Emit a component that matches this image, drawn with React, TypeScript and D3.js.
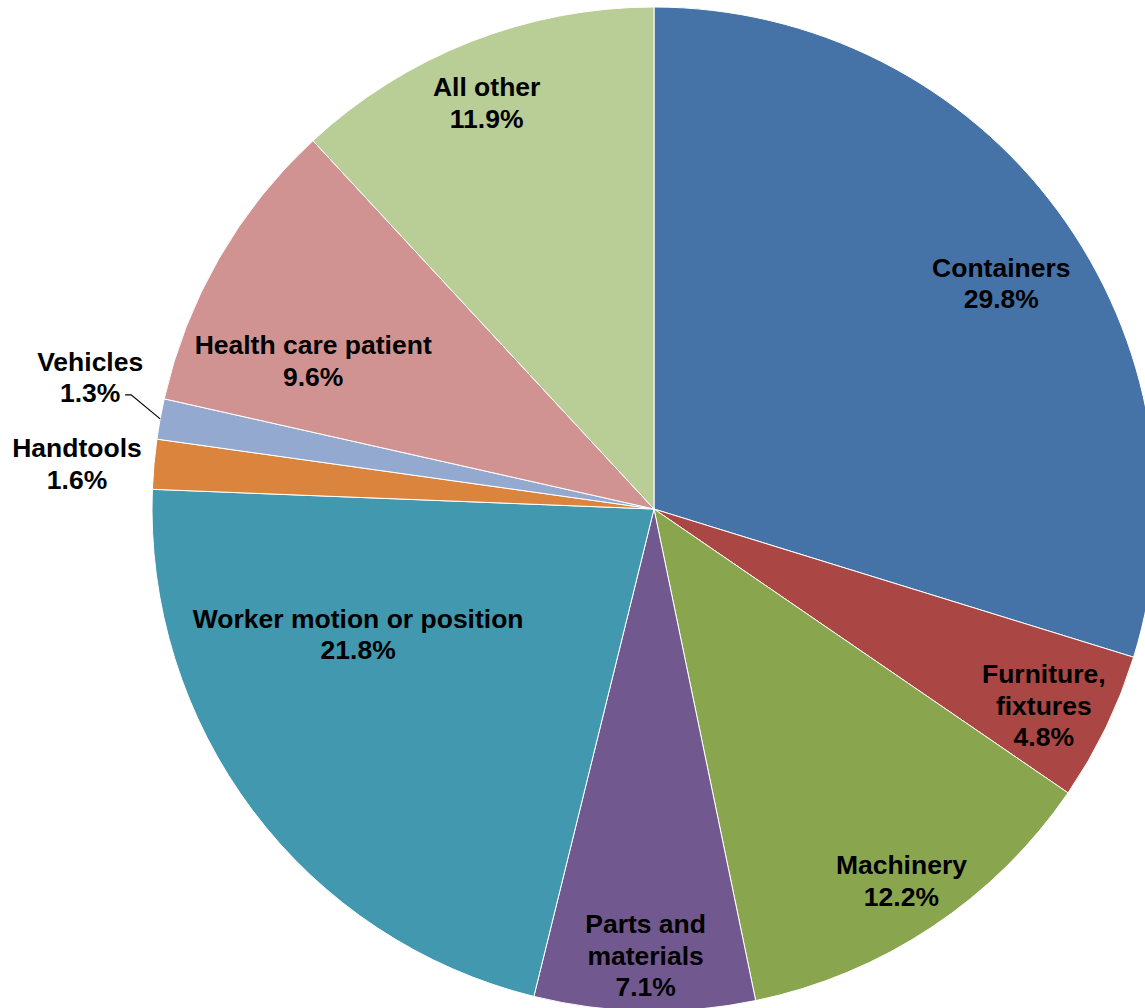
import { useEffect, useRef } from "react";
import * as d3 from "d3";

const categories = [
  "Containers",
  "Furniture, fixtures",
  "Machinery",
  "Parts and materials",
  "Worker motion or position",
  "Handtools",
  "Vehicles",
  "Health care patient",
  "All other",
];
const shares = [29.8, 4.8, 12.2, 7.1, 21.8, 1.6, 1.3, 9.6, 11.9];
const labelLines = [
  ["Containers"],
  ["Furniture,", "fixtures"],
  ["Machinery"],
  ["Parts and", "materials"],
  ["Worker motion or position"],
  ["Handtools"],
  ["Vehicles"],
  ["Health care patient"],
  ["All other"],
];
const colors = [
  "#4572A7",
  "#AA4643",
  "#89A54E",
  "#71588F",
  "#4198AF",
  "#DB843D",
  "#93A9CF",
  "#D19392",
  "#B9CD96",
];

// label placement: radius fraction and angle nudge (degrees), "out" = outside label
const labelPlace: Record<string, { r: number; da: number; out?: boolean }> = {
  Containers: { r: 0.825, da: 3.4 },
  "Furniture, fixtures": { r: 0.87, da: 1 },
  Machinery: { r: 0.89, da: 0 },
  "Parts and materials": { r: 0.89, da: 0 },
  "Worker motion or position": { r: 0.64, da: 14 },
  Handtools: { r: 1, da: 0, out: true },
  Vehicles: { r: 1, da: 0, out: true },
  "Health care patient": { r: 0.74, da: -6.5 },
  "All other": { r: 0.875, da: -1 },
};

const App = () => {
  const svgRef = useRef<SVGSVGElement>(null);

  useEffect(() => {
    const width = 1145;
    const height = 1008;
    const cx = 654;
    const cy = 509;
    const radius = 502;

    const svg = d3.select(svgRef.current);
    svg.selectAll("*").remove();
    svg.attr("width", width).attr("height", height);

    const g = svg.append("g").attr("transform", `translate(${cx},${cy})`);

    const data = categories.map((c, i) => ({ name: c, value: shares[i], i }));
    const pie = d3
      .pie<{ name: string; value: number; i: number }>()
      .sort(null)
      .value((d) => d.value);
    const arcs = pie(data);

    const arc = d3
      .arc<d3.PieArcDatum<{ name: string; value: number; i: number }>>()
      .innerRadius(0)
      .outerRadius(radius);

    g.selectAll("path.slice")
      .data(arcs)
      .enter()
      .append("path")
      .attr("class", "slice")
      .attr("d", arc)
      .attr("fill", (d) => colors[d.data.i])
      .attr("stroke", "#ffffff")
      .attr("stroke-width", 1);

    const lineH = 31.5;
    const font = "'Liberation Sans', Arial, sans-serif";

    arcs.forEach((a) => {
      const name = a.data.name;
      const place = labelPlace[name];
      const mid = (a.startAngle + a.endAngle) / 2 + (place.da * Math.PI) / 180;
      const lines = [...labelLines[a.data.i], `${a.data.value.toFixed(1)}%`];
      let lx: number;
      let ly: number;
      if (place.out) {
        const ex = radius * Math.sin(mid);
        const ey = -radius * Math.cos(mid);
        if (name === "Vehicles") {
          lx = ex - 70;
          ly = ey - 57;
          // leader line
          g.append("path")
            .attr("d", `M${lx + 35},${ly + 33} L${lx + 41},${ly + 33} L${ex},${ey}`)
            .attr("fill", "none")
            .attr("stroke", "#000")
            .attr("stroke-width", 1.2);
        } else {
          lx = ex - 77;
          ly = ey - 16;
        }
      } else {
        lx = place.r * radius * Math.sin(mid);
        ly = -place.r * radius * Math.cos(mid) - ((lines.length - 1) * lineH) / 2;
      }
      const text = g
        .append("text")
        .attr("text-anchor", "middle")
        .style("font-family", font)
        .style("font-weight", "bold")
        .style("font-size", "26.5px")
        .style("fill", "#000");
      lines.forEach((l, k) => {
        text
          .append("tspan")
          .attr("x", lx)
          .attr("y", ly + k * lineH + 9)
          .text(l);
      });
    });
  }, []);

  return (
    <svg
      ref={svgRef}
      style={{ position: "absolute", left: 0, top: 0, display: "block" }}
    ></svg>
  );
};

export default App;
